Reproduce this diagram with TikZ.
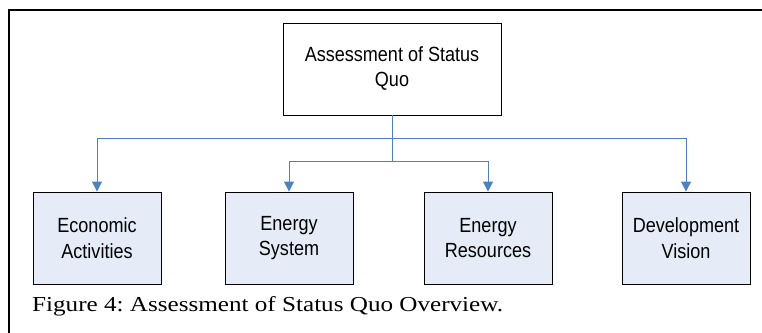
\documentclass[tikz,border=0pt]{standalone}
\usepackage{fontspec}
\setmainfont{Liberation Serif}
\setsansfont{Liberation Sans}
\newfontfamily\boxfont[FakeStretch=0.88]{Liberation Sans}
\newfontfamily\capfont[FakeStretch=1.18]{Liberation Serif}
\usepackage{tikz}
\usetikzlibrary{arrows.meta, positioning}
\definecolor{lineblue}{RGB}{79,129,189}
\definecolor{boxfill}{RGB}{230,236,247}
\tikzset{
  topbox/.style={rectangle, draw=black, fill=white, minimum width=218pt,
    minimum height=92pt, inner sep=0pt, align=center, line width=0.9pt,
    font=\boxfont\fontsize{20.5}{25}\selectfont},
  subbox/.style={rectangle, draw=black, fill=boxfill, minimum width=128pt,
    minimum height=92pt, inner sep=0pt, align=center, line width=0.9pt,
    font=\boxfont\fontsize{20.5}{25.5}\selectfont},
  arrow/.style={-{Triangle[width=10pt,length=10pt]}, line width=1pt, color=lineblue},
  line/.style={line width=1pt, color=lineblue}
}
\begin{document}
\frenchspacing
\begin{tikzpicture}[x=1pt, y=-1pt]
  \useasboundingbox (0,0) rectangle (762,332);

  % Frame
  \draw[line width=2pt] (9,340) -- (9,10) -- (770,10);

  % Root Node
  \node[topbox] (root) at (392,69) {Assessment of Status\\Quo};

  % Sub Nodes
  \node[subbox] (econ) at (97,238) {Economic\\Activities};
  \node[subbox] (esys) at (289,238) {Energy\\System};
  \node[subbox] (eres) at (488,238) {Energy\\Resources};
  \node[subbox] (vision) at (686,238) {Development\\Vision};

  % Junctions
  \coordinate (j1) at (392,138);
  \coordinate (j2) at (392,161);

  % Connect root to sub nodes
  \draw[line] (root.south) -- (j2);
  \draw[arrow] (j1) -| (econ.north);
  \draw[arrow] (j1) -| (vision.north);
  \draw[arrow] (j2) -| (esys.north);
  \draw[arrow] (j2) -| (eres.north);

  % Caption
  \node[anchor=base west, inner sep=0pt, font=\capfont\fontsize{21.3}{26}\selectfont] (caption) at (32,311)
    {Figure 4: Assessment of Status Quo Overview.};
\end{tikzpicture}
\end{document}
